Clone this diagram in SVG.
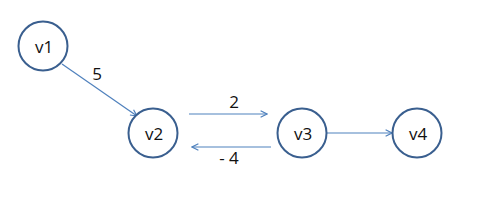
<svg xmlns="http://www.w3.org/2000/svg" width="499" height="219" viewBox="0 0 499 219">
<style>
.node{fill:#fff;stroke:#3a5f8f;stroke-width:2}
.lbl{font-family:"Open Sans","Liberation Sans",sans-serif;font-size:17px;fill:#111;text-anchor:middle}
.edge{stroke:#4f81bd;stroke-width:1.2;fill:none;marker-end:url(#ah)}
</style>
<defs>
<marker id="ah" viewBox="0 0 10 10" refX="9" refY="5" markerWidth="8" markerHeight="8" markerUnits="userSpaceOnUse" orient="auto">
<path d="M1,1 L9,5 L1,9" fill="none" stroke="#4f81bd" stroke-width="1.5"/>
</marker>
</defs>
<g id="connectors">
<line class="edge" x1="62" y1="64" x2="137" y2="116"/>
<line class="edge" x1="189" y1="114" x2="267" y2="114"/>
<line class="edge" x1="271" y1="147" x2="192" y2="147"/>
<line class="edge" x1="327" y1="133" x2="392" y2="133"/>
<text class="lbl" x="97" y="80">5</text>
<text class="lbl" x="234" y="108">2</text>
<text class="lbl" x="229" y="164">- 4</text>
</g>
<g id="v1"><circle class="node" cx="43" cy="46" r="24.5"/><text class="lbl" x="44" y="53">v1</text></g>
<g id="v2"><circle class="node" cx="153" cy="133" r="24.5"/><text class="lbl" x="154" y="140">v2</text></g>
<g id="v3"><circle class="node" cx="302" cy="133" r="24.5"/><text class="lbl" x="303" y="140">v3</text></g>
<g id="v4"><circle class="node" cx="417" cy="133" r="24.5"/><text class="lbl" x="418" y="140">v4</text></g>
</svg>
